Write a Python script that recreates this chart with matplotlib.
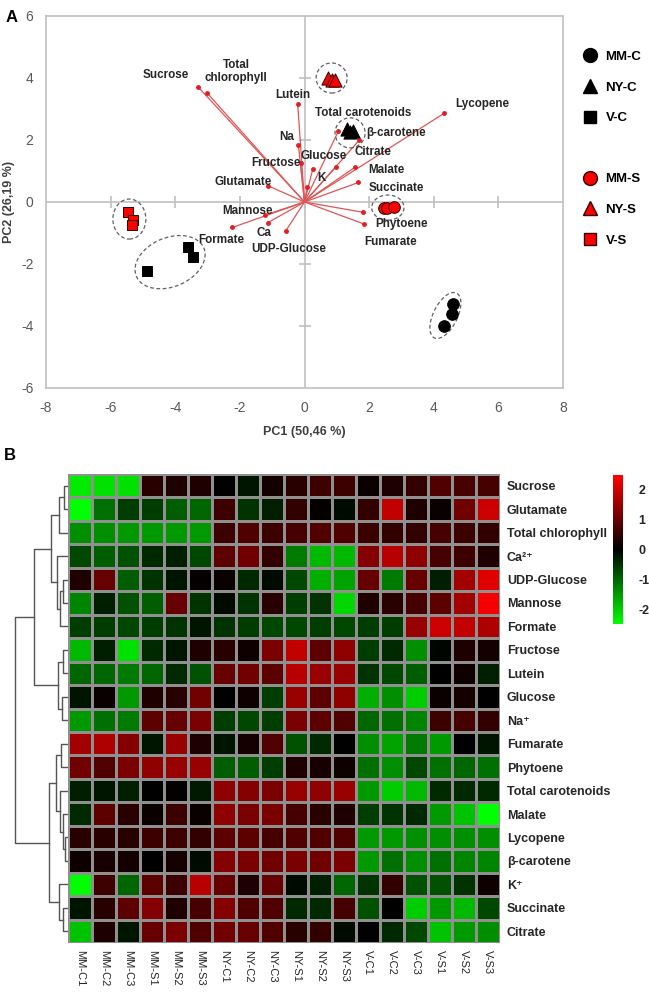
import numpy as np
import matplotlib
matplotlib.use("Agg")
import matplotlib.pyplot as plt
from matplotlib.colors import LinearSegmentedColormap
from matplotlib.patches import Ellipse
from matplotlib.lines import Line2D

plt.rcParams['font.family'] = ['Liberation Sans', 'DejaVu Sans']
plt.rcParams['axes.unicode_minus'] = False

# ---------------- PCA data (panel A) ----------------
groups = ['MM-C', 'NY-C', 'V-C', 'MM-S', 'NY-S', 'V-S']
group_x = {
    'MM-C': [4.60, 4.55, 4.33],
    'NY-C': [1.30, 1.42, 1.50],
    'V-C': [-3.62, -3.46, -4.88],
    'MM-S': [2.45, 2.55, 2.78],
    'NY-S': [0.74, 0.86, 0.95],
    'V-S': [-5.45, -5.30, -5.35],
}
group_y = {
    'MM-C': [-3.29, -3.61, -4.00],
    'NY-C': [2.35, 2.25, 2.30],
    'V-C': [-1.44, -1.78, -2.23],
    'MM-S': [-0.20, -0.20, -0.17],
    'NY-S': [4.00, 3.95, 3.95],
    'V-S': [-0.31, -0.58, -0.74],
}
# confidence ellipses: centre x, centre y, width, height, angle
ell_cx = [4.36, 1.41, -4.16, 2.58, 0.84, -5.42]
ell_cy = [-3.66, 2.23, -1.94, -0.18, 4.00, -0.55]
ell_w = [1.60, 0.93, 2.28, 1.00, 0.96, 1.02]
ell_h = [0.75, 0.97, 1.57, 0.81, 0.97, 1.29]
ell_ang = [65, 0, 25, 0, 0, 0]

load_names = ['Sucrose', 'Total\nchlorophyll', 'Lutein', 'Na', 'Fructose', 'Glucose',
              'Glutamate', 'K', 'Mannose', 'Ca', 'Formate', 'UDP-Glucose',
              'Total carotenoids', 'β-carotene', 'Citrate', 'Malate', 'Succinate',
              'Lycopene', 'Phytoene', 'Fumarate']
load_x = [-3.30, -3.01, -0.21, -0.19, -0.12, 0.26, -1.14, 0.09, -1.22, -1.14, -2.23, -0.58,
          1.05, 1.70, 0.98, 1.56, 1.67, 4.32, 1.80, 1.84]
load_y = [3.72, 3.51, 3.15, 1.84, 1.25, 1.08, 0.53, 0.47, -0.42, -0.67, -0.82, -0.93,
          2.29, 2.00, 1.14, 1.12, 0.63, 2.86, -0.33, -0.71]
# label anchor points
lab_x = [-4.30, -2.12, -0.35, -0.55, -0.88, 0.58, -1.89, 0.53, -1.77, -1.27, -2.58, -0.50,
         1.82, 2.83, 2.13, 2.52, 2.85, 5.49, 2.99, 2.65]
lab_y = [4.10, 4.20, 3.45, 2.10, 1.27, 1.48, 0.65, 0.76, -0.28, -1.01, -1.23, -1.53,
         2.86, 2.24, 1.60, 1.03, 0.44, 3.15, -0.72, -1.28]

# ---------------- heatmap data (panel B) ----------------
samples = ['MM-C1', 'MM-C2', 'MM-C3', 'MM-S1', 'MM-S2', 'MM-S3',
           'NY-C1', 'NY-C2', 'NY-C3', 'NY-S1', 'NY-S2', 'NY-S3',
           'V-C1', 'V-C2', 'V-C3', 'V-S1', 'V-S2', 'V-S3']
metabolites = ['Sucrose', 'Glutamate', 'Total chlorophyll', 'Ca²⁺', 'UDP-Glucose', 'Mannose',
               'Formate', 'Fructose', 'Lutein', 'Glucose', 'Na⁺', 'Fumarate', 'Phytoene',
               'Total carotenoids', 'Malate', 'Lycopene', 'β-carotene', 'K⁺', 'Succinate',
               'Citrate']
zscores = np.array([
    [-2.3, -2.2, -2.2, 0.4, 0.3, 0.3, 0.0, -0.2, 0.2, 0.4, 0.6, 0.6, 0.1, 0.3, 0.5, 0.8, 0.7, 0.7],
    [-2.5, -1.1, -0.6, -0.6, -0.9, -1.0, 0.6, -0.5, -0.3, 0.5, 0.05, -0.1, 0.5, 1.9, 0.3, 0.1, 1.1, 2.0],
    [-1.4, -1.4, -1.5, -1.5, -1.5, -1.5, 0.6, 0.8, 0.6, 0.7, 0.8, 0.8, 0.6, 0.5, 0.5, 0.7, 0.6, 0.5],
    [-0.7, -0.9, -0.8, -0.4, -0.3, -0.7, 0.9, 1.1, 0.5, -1.2, -1.8, -1.8, 1.3, 1.8, 1.4, 0.7, 0.6, 0.3],
    [0.3, 1.0, -0.9, -0.5, -0.2, 0.05, 0.1, -0.4, -0.1, -0.7, -1.7, -1.6, 1.0, -1.2, 1.0, -0.3, 1.6, 2.2],
    [-1.3, -0.3, -0.8, -0.9, 1.0, -0.5, -0.1, -0.5, 0.4, -0.6, -0.5, -2.1, 0.3, 0.4, 0.7, 0.9, 1.6, 2.4],
    [-0.6, -0.6, -0.7, -0.6, -0.5, -0.2, -0.5, -0.6, -0.7, -0.7, -0.6, -0.7, -0.6, -0.6, 1.5, 2.0, 1.9, 1.7],
    [-1.8, -0.3, -2.2, -0.4, -0.2, 0.3, 0.4, 0.15, 1.2, 1.9, 0.9, 1.4, -0.6, -0.4, -1.4, -0.05, 0.3, 0.2],
    [-1.0, -1.0, -1.2, -1.0, -0.4, -0.8, 1.0, 1.1, 0.9, 1.8, 1.5, 1.5, -0.5, -0.7, -0.9, 0.0, 0.15, -0.3],
    [-0.2, 0.1, -1.5, 0.3, 0.4, 1.1, 0.0, 0.15, -0.6, 1.5, 0.9, 1.4, -1.7, -1.4, -2.0, 0.1, 0.2, 0.0],
    [-1.5, -1.1, -1.2, 0.9, 1.0, 1.2, -0.6, -0.7, -0.6, 1.2, 0.9, 0.8, -1.0, -1.1, -1.3, 0.6, 0.7, 0.5],
    [1.6, 1.7, 1.3, -0.2, 1.5, 0.3, -0.2, 0.2, 0.8, -0.8, -0.4, 0.0, -1.4, -1.6, -1.2, -1.5, 0.0, -0.2],
    [1.1, 0.8, 1.2, 1.4, 1.5, 1.5, -0.9, -0.9, -0.6, 0.3, 0.25, 0.15, -1.1, -1.4, -0.7, -1.1, -1.0, -1.1],
    [-0.3, -0.2, -0.3, 0.0, 0.05, -0.25, 1.4, 1.3, 1.2, 1.5, 1.4, 1.5, -1.5, -2.0, -1.8, -0.4, -0.4, -0.4],
    [-0.4, 0.9, 0.4, 0.1, 0.6, 0.1, 1.4, 1.2, 1.2, 0.7, 0.4, 0.3, -0.6, -0.5, -0.4, -1.5, -1.9, -2.5],
    [0.4, 0.4, 0.4, 0.6, 0.6, 0.5, 0.9, 0.9, 0.7, 0.8, 0.8, 0.8, -1.5, -1.5, -1.4, -1.4, -1.4, -1.4],
    [0.15, 0.25, 0.2, 0.0, 0.2, -0.1, 1.3, 1.2, 1.1, 1.2, 1.1, 1.2, -1.5, -1.1, -1.4, -1.1, -1.3, -1.3],
    [-2.6, 0.6, -1.0, 0.9, 0.6, 1.8, 1.0, 0.3, 1.0, -0.1, -0.3, -1.0, -0.5, 0.5, -0.8, -0.8, -0.5, 0.15],
    [-0.2, 0.4, 0.9, 1.3, 0.3, 0.7, 1.3, 0.8, 0.8, -0.4, -0.4, 0.7, -0.8, 0.0, -2.0, -1.5, -1.8, -0.7],
    [-1.9, 0.3, -0.2, 1.0, 1.2, 0.8, 1.1, 1.0, 0.8, 0.4, 0.5, -0.1, 0.0, -0.4, -0.7, -1.9, -1.5, -1.4],
])
# row dendrogram merges: (left id, right id, height); leaves are 0..19
row_links = [
    (0, 1, 0.4), (20, 2, 0.9), (4, 5, 0.5), (22, 6, 0.8), (3, 23, 1.1), (21, 24, 1.7),
    (7, 8, 0.5), (9, 10, 0.6), (26, 27, 1.0), (25, 28, 3.4),
    (11, 12, 0.7), (15, 16, 0.3), (14, 31, 0.5), (13, 32, 0.8), (30, 33, 1.2),
    (18, 19, 0.5), (17, 35, 0.9), (34, 36, 1.9), (29, 37, 5.3),
]

W, H = 649, 997
fig = plt.figure(figsize=(W / 100, H / 100), dpi=100)


def fax(x0, y0, x1, y1):
    # pixel box -> figure axes
    return fig.add_axes([x0 / W, 1 - y1 / H, (x1 - x0) / W, (y1 - y0) / H])


# ================= Panel A =================
ax = fax(46, 16, 563, 388)
frame_c = '#c0c0c0'
ax.set_xlim(-8, 8)
ax.set_ylim(-6, 6)
for s in ax.spines.values():
    s.set_color(frame_c)
    s.set_linewidth(1.2)
ax.axhline(0, color=frame_c, lw=1.2, zorder=0)
ax.axvline(0, color=frame_c, lw=1.2, zorder=0)
xt = np.arange(-8, 9, 2)
yt = np.arange(-6, 7, 2)
ax.set_xticks(xt)
ax.set_yticks(yt)
ax.tick_params(length=0, labelsize=10, labelcolor='#595959', pad=9)
ax.plot(xt[1:-1], np.zeros(len(xt) - 2), ls='', marker='|', ms=8, color=frame_c, mew=1.2, zorder=0)
ax.plot(np.zeros(len(yt) - 2), yt[1:-1], ls='', marker='_', ms=8, color=frame_c, mew=1.2, zorder=0)
ax.set_xlabel('PC1 (50,46 %)', fontsize=9, fontweight='bold', color='#404040', labelpad=8)
ax.set_ylabel('PC2 (26,19 %)', fontsize=9, fontweight='bold', color='#404040')
ax.yaxis.set_label_coords(-0.059, 0.5)

for i in range(len(load_names)):
    ax.plot([0, load_x[i]], [0, load_y[i]], color='#e05555', lw=0.9, zorder=2)
    ax.plot(load_x[i], load_y[i], 'o', color='#e02020', ms=2.5, zorder=3)
    ax.text(lab_x[i], lab_y[i], load_names[i], ha='center', va='center',
            fontsize=8.4, fontweight='bold', color='#262626', zorder=4,
            linespacing=1.1)

for i in range(len(groups)):
    ax.add_patch(Ellipse((ell_cx[i], ell_cy[i]), ell_w[i], ell_h[i], angle=ell_ang[i],
                         fill=False, ls=(0, (3, 2)), ec='#606060', lw=0.9, zorder=3))

style = {
    'MM-C': dict(marker='o', c='black', s=70),
    'NY-C': dict(marker='^', c='black', s=90),
    'V-C': dict(marker='s', c='black', s=60),
    'MM-S': dict(marker='o', c='#ff0000', s=70),
    'NY-S': dict(marker='^', c='#ff0000', s=90),
    'V-S': dict(marker='s', c='#ff0000', s=60),
}
for g in groups:
    st = style[g]
    ax.scatter(group_x[g], group_y[g], marker=st['marker'], c=st['c'], s=st['s'],
               edgecolors='#300000' if st['c'] != 'black' else 'black', linewidths=0.7, zorder=5)

handles, labels = [], []
for g in groups:
    if g == 'MM-S':
        handles.append(Line2D([], [], ls='', marker=''))
        labels.append('')
    st = style[g]
    handles.append(Line2D([], [], ls='', marker=st['marker'], color=st['c'],
                          mec='#300000' if st['c'] != 'black' else 'black', ms=10 if st['marker'] != 's' else 9))
    labels.append(g)
fig.legend(handles, labels, loc='upper left', bbox_to_anchor=(570 / W, 1 - 39 / H),
           frameon=False, prop={'weight': 'bold', 'size': 9.5}, labelspacing=1.39,
           handletextpad=0.6, handlelength=1.2)

fig.text(6 / W, 1 - 18 / H, 'A', fontsize=12, fontweight='bold', va='center')
fig.text(4 / W, 1 - 455 / H, 'B', fontsize=12, fontweight='bold', va='center')

# ================= Panel B =================
cmap = LinearSegmentedColormap.from_list('gkr', ['#00ff00', '#000000', '#ff0000'])
hx = fax(68, 474, 500, 943)
nr, nc = zscores.shape
mesh = hx.pcolormesh(zscores, cmap=cmap, vmin=-2.5, vmax=2.5, edgecolors='#909090', linewidth=0.8)
hx.set_xlim(0, nc)
hx.set_ylim(nr, 0)
hx.yaxis.tick_right()
hx.set_yticks(np.arange(nr) + 0.5)
hx.set_yticklabels(metabolites, fontsize=9, fontweight='bold', color='#262626')
hx.set_xticks(np.arange(nc) + 0.5)
hx.set_xticklabels(samples, rotation=-90, fontsize=8, color='#262626')
hx.tick_params(length=0, pad=5)
for s in hx.spines.values():
    s.set_visible(False)

# row dendrogram
dx = fax(8, 474, 68, 943)
pos = {i: i + 0.5 for i in range(nr)}
hgt = {i: 0.0 for i in range(nr)}
for k, (a, b, h) in enumerate(row_links):
    nid = nr + k
    dx.plot([hgt[a], h, h, hgt[b]], [pos[a], pos[a], pos[b], pos[b]], color='#555555', lw=1.0)
    pos[nid] = (pos[a] + pos[b]) / 2
    hgt[nid] = h
dx.set_xlim(6.0, 0)
dx.set_ylim(nr, 0)
dx.axis('off')

# colour bar
cx = fax(613, 475, 623, 624)
cb = fig.colorbar(mesh, cax=cx, ticks=[-2, -1, 0, 1, 2])
cb.outline.set_visible(False)
cx.tick_params(length=0, labelsize=9, pad=11)
for t in cx.get_yticklabels():
    t.set_fontweight('bold')
    t.set_color('#262626')

fig.savefig('out.png', dpi=100)
